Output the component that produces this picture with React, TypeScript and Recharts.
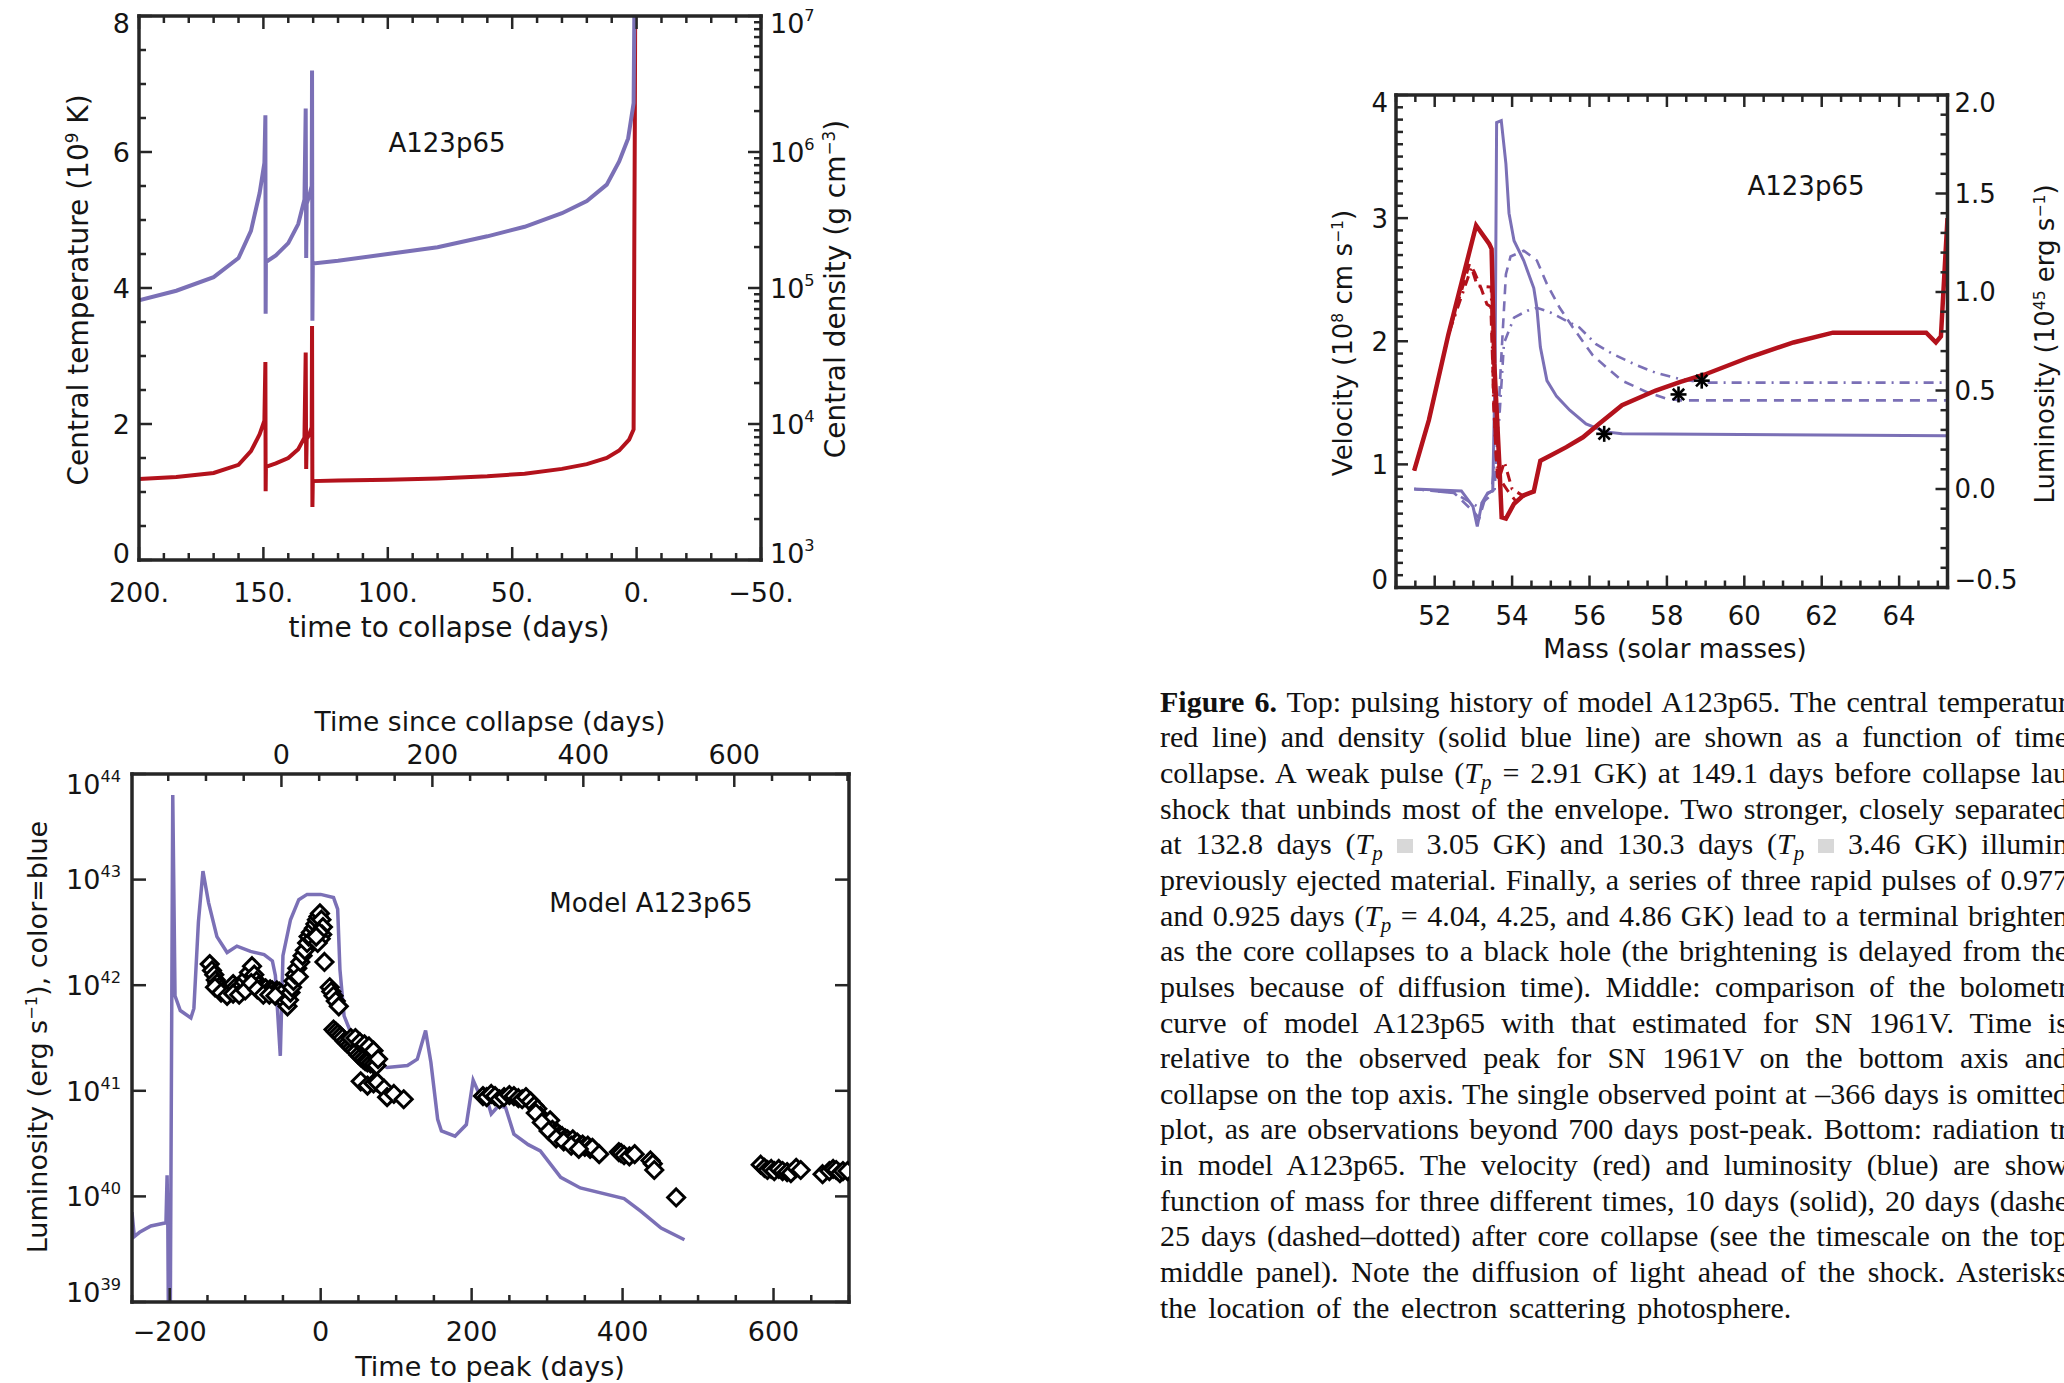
import React from 'react';
import { ComposedChart, Line, Scatter, XAxis, YAxis } from 'recharts';

const RED = '#b3121c';
const BLUE = '#7b70b6';
const FRAME = '#262626';
const INK = '#141414';
const SANS = '"DejaVu Sans", Verdana, sans-serif';
const SERIF = '"Liberation Serif", "Times New Roman", serif';

// ================= Top panel: pulsing history =================
const p1TempDays = [200, 185, 170, 160, 155, 151.5, 149.6, 149.2, 149.1, 149.0, 145, 140, 136, 133.5, 133.0, 132.8, 132.6, 131.5, 130.6, 130.45, 130.3, 130.15, 120, 100, 80, 60, 45, 30, 20, 12, 7, 3, 1.2, 0.9, 0.7, 0.5];
const p1TempGK = [1.19, 1.22, 1.28, 1.40, 1.60, 1.85, 2.05, 2.91, 1.01, 1.37, 1.42, 1.50, 1.63, 1.80, 3.05, 1.34, 1.78, 1.85, 1.95, 3.44, 0.78, 1.16, 1.17, 1.18, 1.20, 1.23, 1.27, 1.34, 1.41, 1.50, 1.61, 1.77, 1.92, 4.86, 6.5, 9.0];
const p1DensDays = [200, 185, 170, 160, 155, 151.5, 149.6, 149.2, 149.1, 149.0, 145, 140, 136, 133.5, 133.0, 132.8, 132.6, 131.5, 130.6, 130.45, 130.3, 130.15, 120, 100, 80, 60, 45, 30, 20, 12, 7, 3.4, 1.2, 0.7];
const p1DensLog = [4.91, 4.98, 5.08, 5.22, 5.42, 5.70, 5.92, 6.27, 4.81, 5.19, 5.24, 5.33, 5.47, 5.65, 6.32, 5.22, 5.62, 5.68, 5.75, 6.60, 4.76, 5.18, 5.20, 5.25, 5.30, 5.38, 5.45, 5.55, 5.64, 5.76, 5.93, 6.10, 6.36, 7.5];
const p1DayMajors = [200, 150, 100, 50, 0, -50];
const p1TempMajors = [0, 2, 4, 6, 8];
const p1DensMajors = [1e3, 1e4, 1e5, 1e6, 1e7];

// ================= Middle panel: light curve =================
const lcDays = [-250, -247, -240, -225, -205, -203.5, -202.5, -201.5, -199.5, -196, -193, -186, -172, -168, -162, -156, -148.5, -137.5, -124, -111, -93, -75, -64, -60, -53.5, -50, -40, -29, -18, 0, 17, 22.5, 25.5, 31, 40, 57, 75, 88, 115, 128, 139, 146, 155, 160, 178, 193, 202, 212, 217, 226, 236, 245, 256, 275, 291, 318, 344, 402, 424, 451, 482];
const lcLogL = [39.85, 39.62, 39.66, 39.72, 39.75, 40.2, 39.7, 38.5, 38.5, 43.8, 41.9, 41.76, 41.69, 41.78, 42.6, 43.08, 42.78, 42.46, 42.31, 42.37, 42.32, 42.29, 42.23, 42.09, 41.33, 42.28, 42.62, 42.81, 42.86, 42.86, 42.83, 42.72, 42.15, 41.71, 41.55, 41.43, 41.27, 41.22, 41.24, 41.30, 41.57, 41.27, 40.73, 40.62, 40.57, 40.68, 41.1, 40.94, 41.0, 40.78, 40.86, 40.84, 40.59, 40.49, 40.43, 40.18, 40.08, 39.98, 39.86, 39.70, 39.59];

const obsDays = [
  -147, -144, -141, -139, -137, -134, -131, -128, -125, -122, -119, -116, -113, -110, -107, -104, -101, -98, -95, -91, -88, -85, -82, -79, -76, -73, -70, -67, -64, -61, -58, -55, -52,
  -140, -132, -124, -116, -108, -100, -92, -84, -76, -68, -60,
  -47, -44, -42, -40, -38, -36, -34, -31, -29, -27, -24, -21, -18, -16, -13, -11, -9, -7, -5, -3, -1, 1, 3, 2, 0, -2, -4, -6,
  5,
  12, 14, 17, 20, 24,
  17, 20, 23, 26, 29, 32, 35, 38, 41, 44, 47, 50, 53, 56, 59, 62, 66, 70, 74, 40, 46, 52, 58, 64, 70, 76,
  53, 62, 70, 75, 84, 88, 97, 110,
  215, 220, 226, 231, 237, 243, 250, 256, 262, 267, 272, 278, 283, 287, 291, 296, 300, 304, 307, 310, 314, 317, 320, 324, 327, 330, 334, 337, 340, 344, 347, 350, 354, 357, 360, 369, 395, 398, 402, 409, 416, 437, 440, 442, 471, 285, 293, 302, 312, 322, 332, 342,
  583, 588, 592, 597, 601, 607, 612, 618, 623, 630, 636, 665, 674, 679, 683, 688, 692, 698,
];
const obsLogL = [
  42.20, 42.14, 42.10, 42.05, 42.02, 41.99, 41.97, 41.95, 41.94, 41.96, 41.98, 42.01, 41.98, 41.95, 41.97, 42.00, 42.03, 42.07, 42.12, 42.18, 42.10, 42.04, 42.00, 41.97, 41.95, 41.97, 41.94, 41.96, 41.95, 41.93, 41.95, 41.94, 41.92,
  41.98, 41.93, 41.90, 41.92, 41.91, 41.95, 42.02, 41.96, 41.91, 41.91, 41.90,
  41.84, 41.80, 41.86, 41.93, 41.98, 42.04, 42.10, 42.16, 42.08, 42.22, 42.28, 42.33, 42.40, 42.46, 42.50, 42.44, 42.54, 42.58, 42.62, 42.65, 42.68, 42.62, 42.55, 42.48, 42.44, 42.50, 42.40, 42.46,
  42.22,
  41.98, 41.94, 41.90, 41.85, 41.80,
  41.58, 41.56, 41.54, 41.52, 41.50, 41.47, 41.45, 41.43, 41.41, 41.39, 41.37, 41.34, 41.32, 41.30, 41.28, 41.27, 41.26, 41.25, 41.24, 41.50, 41.50, 41.46, 41.44, 41.42, 41.38, 41.30,
  41.09, 41.05, 41.07, 41.08, 41.02, 40.94, 40.97, 40.92,
  40.95, 40.94, 40.97, 40.95, 40.92, 40.94, 40.96, 40.95, 40.93, 40.92, 40.94, 40.90, 40.86, 40.83, 40.76, 40.71, 40.67, 40.72, 40.63, 40.60, 40.60, 40.58, 40.57, 40.55, 40.54, 40.52, 40.54, 40.50, 40.51, 40.48, 40.49, 40.47, 40.48, 40.45, 40.46, 40.40, 40.42, 40.41, 40.39, 40.38, 40.40, 40.34, 40.31, 40.25, 39.99, 40.79, 40.70, 40.62, 40.55, 40.52, 40.48, 40.45,
  40.30, 40.27, 40.25, 40.26, 40.24, 40.26, 40.24, 40.23, 40.22, 40.27, 40.25, 40.21, 40.24, 40.26, 40.25, 40.22, 40.24, 40.24,
];
const p2PeakMajors = [-200, 0, 200, 400, 600];
const p2CollapseMajors = [0, 200, 400, 600];
const p2CollapseOffset = 52; // collapse happens 52 days before the observed peak
const p2LumMajors = [1e39, 1e40, 1e41, 1e42, 1e43, 1e44];

// ================= Right panel: radiation transport =================
const redSolidM = [51.47, 51.85, 52.35, 53.07, 53.41, 53.47, 53.54, 53.67, 53.73, 53.84, 54.05, 54.3, 54.56, 54.73, 54.98, 55.4, 55.83, 56.25, 56.84, 57.71, 58.35, 58.98, 60.13, 61.27, 62.29, 64.7, 64.95, 65.08, 65.25];
const redSolidV = [0.95, 1.36, 2.05, 2.94, 2.79, 2.75, 1.82, 1.0, 0.57, 0.56, 0.68, 0.75, 0.78, 1.03, 1.07, 1.14, 1.22, 1.33, 1.48, 1.60, 1.67, 1.73, 1.87, 1.99, 2.07, 2.07, 1.99, 2.04, 3.0];
const redDashM = [51.47, 51.85, 52.35, 52.9, 53.03, 53.2, 53.35, 53.45, 53.55, 53.62, 53.75, 53.9, 54.1, 54.3, 54.56];
const redDashV = [0.95, 1.36, 2.05, 2.63, 2.56, 2.43, 2.30, 2.28, 1.30, 0.90, 0.85, 0.78, 0.70, 0.74, 0.78];
const redDotM = [51.47, 51.85, 52.35, 52.95, 53.1, 53.46, 53.52, 53.6, 53.7, 53.8, 54.0, 54.3, 54.56];
const redDotV = [0.95, 1.36, 2.05, 2.60, 2.45, 2.44, 1.50, 1.0, 0.92, 1.02, 0.80, 0.74, 0.78];
const blueSolidM = [51.47, 52.69, 52.99, 53.1, 53.22, 53.37, 53.5, 53.56, 53.6, 53.72, 53.84, 53.92, 54.05, 54.3, 54.56, 54.64, 54.73, 54.9, 55.15, 55.49, 55.91, 56.42, 56.84, 65.25];
const blueSolidL = [0.0, -0.01, -0.09, -0.19, -0.07, -0.02, -0.01, 0.6, 1.86, 1.87, 1.65, 1.40, 1.26, 1.16, 1.02, 0.92, 0.72, 0.55, 0.47, 0.40, 0.33, 0.29, 0.28, 0.27];
const blueDashM = [51.47, 52.5, 53.03, 53.15, 53.33, 53.55, 53.71, 53.84, 53.96, 54.3, 54.64, 54.9, 55.23, 55.57, 56.08, 56.42, 56.84, 57.5, 57.97, 58.35, 65.25];
const blueDashL = [0.0, -0.02, -0.12, -0.15, -0.03, 0.0, 0.63, 1.09, 1.18, 1.21, 1.16, 1.04, 0.92, 0.82, 0.68, 0.62, 0.55, 0.49, 0.46, 0.45, 0.45];
const blueDotM = [51.47, 52.5, 53.12, 53.46, 53.67, 53.79, 54.05, 54.39, 54.64, 54.98, 55.4, 55.74, 56.17, 56.59, 57.2, 57.71, 58.3, 58.92, 65.25];
const blueDotL = [0.0, -0.02, -0.09, -0.03, 0.36, 0.74, 0.87, 0.905, 0.92, 0.897, 0.854, 0.82, 0.735, 0.686, 0.63, 0.59, 0.56, 0.54, 0.54];
const photoM = [56.38, 58.3, 58.9];
const photoL = [0.28, 0.48, 0.55];
const p3MassMajors = [52, 54, 56, 58, 60, 62, 64];
const p3VelMajors = [0, 1, 2, 3, 4];
const p3LumMajors = [-0.5, 0, 0.5, 1.0, 1.5, 2.0];

// ================= helpers =================
const pairs = (xs: number[], ys: number[], f: (v: number) => number = (v) => v) => xs.map((x, i) => ({ x, y: f(ys[i]) }));
const exp10 = (v: number) => Math.pow(10, v);
function steps(a: number, b: number, s: number) {
  const out: number[] = [];
  for (let v = a; v <= b + 1e-9; v += s) out.push(Math.round(v * 1e6) / 1e6);
  return out;
}
function logTicks(d0: number, d1: number) {
  const out: number[] = [];
  for (let d = d0; d < d1; d++) for (let k = 1; k <= 9; k++) out.push(k * Math.pow(10, d));
  out.push(Math.pow(10, d1));
  return out;
}
const same = (a: number, b: number, log?: boolean) =>
  log ? Math.abs(Math.log10(a) - Math.log10(b)) < 1e-6 : Math.abs(a - b) < 1e-6;
const minus = (s: string) => s.replace('-', '\u2212');

type Side = 'bottom' | 'top' | 'left' | 'right';
interface TickCfg {
  side: Side; majors: number[]; majLen: number; minLen: number;
  fmt?: (v: number) => React.ReactNode; off?: number; fs?: number; log?: boolean; ends?: number;
}
function tickRenderer(c: TickCfg) {
  const lo = Math.min(...c.majors);
  const hi = Math.max(...c.majors);
  return (p: any) => {
    const x = Number(p.x), y = Number(p.y), v = Number(p.payload?.value);
    const major = c.majors.some((m) => same(m, v, c.log));
    const len = major ? c.majLen : c.minLen;
    let ln: number[];
    if (c.side === 'bottom') ln = [x, y, x, y - len];
    else if (c.side === 'top') ln = [x, y, x, y + len];
    else if (c.side === 'left') ln = [x, y, x + len, y];
    else ln = [x, y, x - len, y];
    let label: React.ReactNode = null;
    if (major && c.fmt) {
      const fs = c.fs ?? 27;
      const off = c.off ?? 8;
      let tx = x, ty = y;
      let anchor: 'middle' | 'end' | 'start' = 'middle';
      if (c.side === 'bottom') ty = y + off;
      else if (c.side === 'top') ty = y - off;
      else {
        ty = y + fs * 0.365;
        if (same(v, lo, c.log)) ty -= c.ends ?? 0;
        if (same(v, hi, c.log)) ty += c.ends ?? 0;
        if (c.side === 'left') { tx = x - off; anchor = 'end'; } else { tx = x + off; anchor = 'start'; }
      }
      label = (
        <text x={tx} y={ty} textAnchor={anchor} fontSize={fs} fontFamily={SANS} fill={INK}>
          {c.fmt(v)}
        </text>
      );
    }
    return (
      <g>
        <line x1={ln[0]} y1={ln[1]} x2={ln[2]} y2={ln[3]} stroke={FRAME} strokeWidth={2.5} />
        {label}
      </g>
    );
  };
}
const pow10Label = (fs: number) => (v: number) => (
  <>
    <tspan>10</tspan>
    <tspan dy={-fs * 0.45} fontSize={fs * 0.6}>{Math.round(Math.log10(v))}</tspan>
  </>
);

// Axes get a 1px box (a 0px box is not drawn); margins are reduced by 1 to compensate.
const axisBase = {
  tickLine: false,
  tickSize: 0,
  tickMargin: 0,
  interval: 0 as const,
  allowDataOverflow: true,
  axisLine: { stroke: FRAME, strokeWidth: 3.5, strokeLinecap: 'square' as const },
};
const plotMargin = (top: number, left: number, right: number, bottom: number) => ({
  top: top - 1, left: left - 1, right: right - 1, bottom: bottom - 1,
});

function Txt({ x, y, fs, rot, children, family = SANS }: any) {
  return (
    <div
      style={{
        position: 'absolute', left: x, top: y,
        transform: `translate(-50%,-50%)${rot ? ' rotate(-90deg)' : ''}`,
        fontSize: fs, fontFamily: family, lineHeight: 1, whiteSpace: 'nowrap', color: INK,
      }}
    >
      {children}
    </div>
  );
}
const Sup = ({ children }: any) => (
  <span style={{ fontSize: '0.6em', position: 'relative', top: '-0.6em' }}>{children}</span>
);

// ================= Panels =================
function PulseHistory() {
  const temp = pairs(p1TempDays, p1TempGK);
  const dens = pairs(p1DensDays, p1DensLog, exp10);
  const dayTicks = steps(-50, 200, 10);
  const tempTicks = steps(0, 8, 0.5);
  const densTicks = logTicks(3, 7);
  const dayFmt = (v: number) => minus(String(v)) + '.';
  return (
    <div style={{ position: 'absolute', left: 0, top: 0 }}>
      <ComposedChart width={900} height={660} margin={plotMargin(16, 139, 139, 100)}>
        <XAxis xAxisId="b" type="number" dataKey="x" domain={[-50, 200]} reversed ticks={dayTicks} height={1} {...axisBase}
          tick={tickRenderer({ side: 'bottom', majors: p1DayMajors, majLen: 13, minLen: 7, fmt: dayFmt, off: 42 })} />
        <XAxis xAxisId="t" orientation="top" type="number" dataKey="x" domain={[-50, 200]} reversed ticks={dayTicks} height={1} {...axisBase}
          tick={tickRenderer({ side: 'top', majors: p1DayMajors, majLen: 13, minLen: 7 })} />
        <YAxis yAxisId="T" type="number" dataKey="y" domain={[0, 8]} ticks={tempTicks} width={1} {...axisBase}
          tick={tickRenderer({ side: 'left', majors: p1TempMajors, majLen: 13, minLen: 7, fmt: (v) => String(v), off: 9, ends: 7 })} />
        <YAxis yAxisId="rho" orientation="right" type="number" dataKey="y" scale="log" domain={[1e3, 1e7]} ticks={densTicks} width={1} {...axisBase}
          tick={tickRenderer({ side: 'right', majors: p1DensMajors, majLen: 13, minLen: 7, fmt: pow10Label(27), off: 9, log: true, ends: 7 })} />
        <Line xAxisId="b" yAxisId="T" data={temp} dataKey="y" type="linear" stroke={RED} strokeWidth={4} dot={false} isAnimationActive={false} />
        <Line xAxisId="b" yAxisId="rho" data={dens} dataKey="y" type="linear" stroke={BLUE} strokeWidth={4} dot={false} isAnimationActive={false} />
      </ComposedChart>
      <Txt x={447} y={143} fs={26}>A123p65</Txt>
      <Txt x={449} y={628} fs={28}>time to collapse (days)</Txt>
      <Txt x={79} y={290} fs={28} rot>Central temperature (10<Sup>9</Sup> K)</Txt>
      <Txt x={836} y={289} fs={28} rot>Central density (g cm<Sup>−3</Sup>)</Txt>
    </div>
  );
}

function Diamond(p: any) {
  const { cx, cy } = p;
  if (cx == null || cy == null) return null;
  const r = 8.5;
  return <path d={`M${cx},${cy - r}L${cx + r},${cy}L${cx},${cy + r}L${cx - r},${cy}Z`} fill="#fff" stroke="#000" strokeWidth={3} />;
}

function LightCurve() {
  const model = pairs(lcDays, lcLogL, exp10);
  const obs = pairs(obsDays, obsLogL, exp10);
  const botTicks = steps(-250, 700, 50);
  const topTicks = steps(-150, 750, 50);
  return (
    <div style={{ position: 'absolute', left: 0, top: 700 }}>
      <ComposedChart width={900} height={683} margin={plotMargin(74, 132, 51, 81)}>
        <XAxis xAxisId="b" type="number" dataKey="x" domain={[-250, 700]} ticks={botTicks} height={1} {...axisBase}
          tick={tickRenderer({ side: 'bottom', majors: p2PeakMajors, majLen: 14, minLen: 7, fmt: (v) => minus(String(v)), off: 39 })} />
        <XAxis xAxisId="t" orientation="top" type="number" dataKey="x" domain={[-250 + p2CollapseOffset, 700 + p2CollapseOffset]} ticks={topTicks} height={1} {...axisBase}
          tick={tickRenderer({ side: 'top', majors: p2CollapseMajors, majLen: 13, minLen: 7, fmt: (v) => String(v), off: 10 })} />
        <YAxis yAxisId="L" type="number" dataKey="y" scale="log" domain={[1e39, 1e44]} ticks={p2LumMajors} width={1} {...axisBase}
          tick={tickRenderer({ side: 'left', majors: p2LumMajors, majLen: 14, minLen: 7, fmt: pow10Label(27), off: 11, log: true, ends: 10 })} />
        <YAxis yAxisId="R" orientation="right" type="number" dataKey="y" scale="log" domain={[1e39, 1e44]} ticks={p2LumMajors} width={1} {...axisBase}
          tick={tickRenderer({ side: 'right', majors: p2LumMajors, majLen: 14, minLen: 7, log: true })} />
        <Scatter xAxisId="b" yAxisId="L" data={obs} dataKey="y" shape={Diamond} isAnimationActive={false} />
        <Line xAxisId="b" yAxisId="L" data={model} dataKey="y" type="linear" stroke={BLUE} strokeWidth={3.5} dot={false} isAnimationActive={false} />
      </ComposedChart>
      <Txt x={490} y={22} fs={26.5}>Time since collapse (days)</Txt>
      <Txt x={651} y={203} fs={26}>Model A123p65</Txt>
      <Txt x={490} y={666} fs={27}>Time to peak (days)</Txt>
      <Txt x={37} y={337} fs={27} rot>Luminosity (erg s<Sup>−1</Sup>), color=blue</Txt>
    </div>
  );
}

function Asterisk(p: any) {
  const { cx, cy } = p;
  if (cx == null || cy == null) return null;
  const r = 8, d = 5.7;
  return (
    <g stroke="#000" strokeWidth={2.6}>
      <line x1={cx - r} y1={cy} x2={cx + r} y2={cy} />
      <line x1={cx} y1={cy - r} x2={cx} y2={cy + r} />
      <line x1={cx - d} y1={cy - d} x2={cx + d} y2={cy + d} />
      <line x1={cx - d} y1={cy + d} x2={cx + d} y2={cy - d} />
    </g>
  );
}

function Transport() {
  const massTicks = steps(51, 65, 0.5);
  const velTicks = steps(0, 4, 0.1);
  const lumTicks = steps(-0.5, 2, 0.1);
  return (
    <div style={{ position: 'absolute', left: 1290, top: 40 }}>
      <ComposedChart width={774} height={640} margin={plotMargin(55, 106, 116.5, 92.5)}>
        <XAxis xAxisId="b" type="number" dataKey="x" domain={[51, 65.25]} ticks={massTicks} height={1} {...axisBase}
          tick={tickRenderer({ side: 'bottom', majors: p3MassMajors, majLen: 12, minLen: 7, fmt: (v) => String(v), off: 37, fs: 26 })} />
        <XAxis xAxisId="t" orientation="top" type="number" dataKey="x" domain={[51, 65.25]} ticks={massTicks} height={1} {...axisBase}
          tick={tickRenderer({ side: 'top', majors: p3MassMajors, majLen: 12, minLen: 7 })} />
        <YAxis yAxisId="v" type="number" dataKey="y" domain={[0, 4]} ticks={velTicks} width={1} {...axisBase}
          tick={tickRenderer({ side: 'left', majors: p3VelMajors, majLen: 12, minLen: 7, fmt: (v) => String(v), off: 8, fs: 26, ends: 8 })} />
        <YAxis yAxisId="L" orientation="right" type="number" dataKey="y" domain={[-0.5, 2]} ticks={lumTicks} width={1} {...axisBase}
          tick={tickRenderer({ side: 'right', majors: p3LumMajors, majLen: 12, minLen: 7, fmt: (v) => minus(v.toFixed(1)), off: 7, fs: 26, ends: 8 })} />
        <Line xAxisId="b" yAxisId="L" data={pairs(blueDotM, blueDotL)} dataKey="y" stroke={BLUE} strokeWidth={2.6} strokeDasharray="10 6 2 6" dot={false} isAnimationActive={false} />
        <Line xAxisId="b" yAxisId="L" data={pairs(blueDashM, blueDashL)} dataKey="y" stroke={BLUE} strokeWidth={2.6} strokeDasharray="10 7" dot={false} isAnimationActive={false} />
        <Line xAxisId="b" yAxisId="L" data={pairs(blueSolidM, blueSolidL)} dataKey="y" stroke={BLUE} strokeWidth={3} dot={false} isAnimationActive={false} />
        <Line xAxisId="b" yAxisId="v" data={pairs(redDotM, redDotV)} dataKey="y" stroke={RED} strokeWidth={3} strokeDasharray="10 6 2 6" dot={false} isAnimationActive={false} />
        <Line xAxisId="b" yAxisId="v" data={pairs(redDashM, redDashV)} dataKey="y" stroke={RED} strokeWidth={3} strokeDasharray="10 7" dot={false} isAnimationActive={false} />
        <Line xAxisId="b" yAxisId="v" data={pairs(redSolidM, redSolidV)} dataKey="y" stroke={RED} strokeWidth={4.5} dot={false} isAnimationActive={false} />
        <Scatter xAxisId="b" yAxisId="L" data={pairs(photoM, photoL)} dataKey="y" shape={Asterisk} isAnimationActive={false} />
      </ComposedChart>
      <Txt x={516} y={146} fs={26}>A123p65</Txt>
      <Txt x={385} y={609} fs={26}>Mass (solar masses)</Txt>
      <Txt x={52.5} y={302.5} fs={26} rot>Velocity (10<Sup>8</Sup> cm s<Sup>−1</Sup>)</Txt>
      <Txt x={755} y={304} fs={26} rot>Luminosity (10<Sup>45</Sup> erg s<Sup>−1</Sup>)</Txt>
    </div>
  );
}

// ================= Caption =================
const Tp = (
  <>
    <i>T</i>
    <sub style={{ fontSize: '0.7em', lineHeight: 0, verticalAlign: '-0.3em' }}><i>p</i></sub>
  </>
);
const GBox = <span style={{ display: 'inline-block', width: 16, height: 14, background: '#d8d8d8', verticalAlign: '0.05em' }} />;
const captionLines: React.ReactNode[] = [
  <><b>Figure 6.</b> Top: pulsing history of model A123p65. The central temperatur</>,
  <>red line) and density (solid blue line) are shown as a function of time</>,
  <>collapse. A weak pulse ({Tp} = 2.91 GK) at 149.1 days before collapse lau</>,
  <>shock that unbinds most of the envelope. Two stronger, closely separated</>,
  <>at 132.8 days ({Tp} {GBox} 3.05 GK) and 130.3 days ({Tp} {GBox} 3.46 GK) illumin</>,
  <>previously ejected material. Finally, a series of three rapid pulses of 0.977</>,
  <>and 0.925 days ({Tp} = 4.04, 4.25, and 4.86 GK) lead to a terminal brighten</>,
  <>as the core collapses to a black hole (the brightening is delayed from the</>,
  <>pulses because of diffusion time). Middle: comparison of the bolometr</>,
  <>curve of model A123p65 with that estimated for SN 1961V. Time is</>,
  <>relative to the observed peak for SN 1961V on the bottom axis and</>,
  <>collapse on the top axis. The single observed point at –366 days is omitted</>,
  <>plot, as are observations beyond 700 days post-peak. Bottom: radiation tr</>,
  <>in model A123p65. The velocity (red) and luminosity (blue) are show</>,
  <>function of mass for three different times, 10 days (solid), 20 days (dashe</>,
  <>25 days (dashed–dotted) after core collapse (see the timescale on the top</>,
  <>middle panel). Note the diffusion of light ahead of the shock. Asterisks</>,
  <>the location of the electron scattering photosphere.</>,
];

function Caption() {
  const last = captionLines.length - 1;
  return (
    <div style={{ position: 'absolute', left: 1160, top: 683.8, width: 908, fontFamily: SERIF, fontSize: 30, lineHeight: '35.65px', color: '#111' }}>
      {captionLines.map((ln, i) => (
        <div key={i} style={{ height: 35.65, whiteSpace: 'nowrap', textAlign: 'justify', textAlignLast: i === last ? 'left' : 'justify', wordSpacing: i === last ? 4 : 0 }}>
          {ln}
        </div>
      ))}
    </div>
  );
}

export default function App() {
  return (
    <div style={{ position: 'fixed', left: 0, top: 0, width: 2064, height: 1383, overflow: 'hidden', background: '#fff' }}>
      <PulseHistory />
      <LightCurve />
      <Transport />
      <Caption />
    </div>
  );
}
